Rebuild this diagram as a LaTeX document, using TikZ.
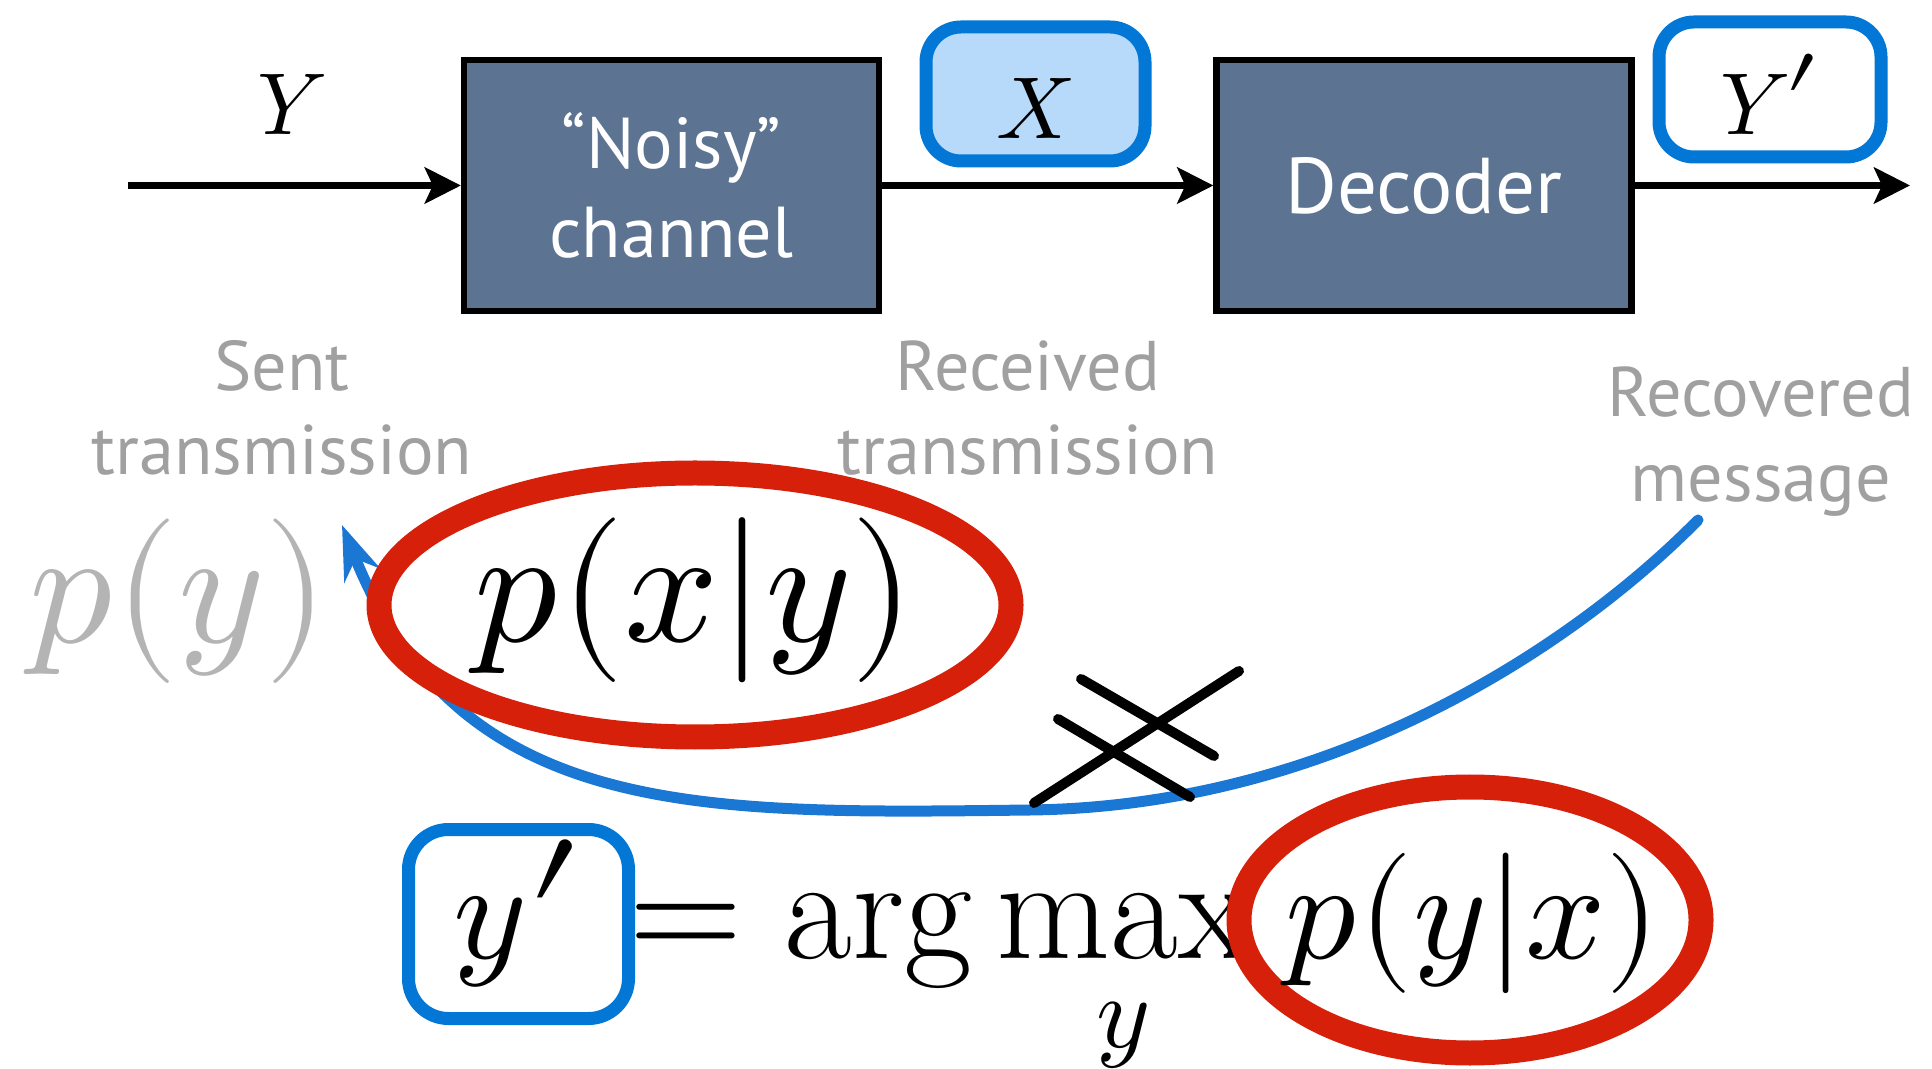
\documentclass[tikz,border=0pt]{standalone}
\usepackage{amsmath}
\usepackage{fontspec}
\usepackage{unicode-math}
\setmathfont{Latin Modern Math}
\newfontfamily\gill{PT Sans}
\usetikzlibrary{arrows.meta, shapes.geometric}
\definecolor{boxfill}{RGB}{92,116,146}
\definecolor{markred}{RGB}{214,32,10}
\definecolor{markblue}{RGB}{26,120,212}
\definecolor{boxblue}{RGB}{2,119,214}
\definecolor{paleblue}{RGB}{184,218,250}
\definecolor{labelgray}{RGB}{160,160,160}
\definecolor{pygray}{RGB}{180,180,180}
\newcommand{\bigprime}[1]{\raisebox{#1}{\scalebox{1.3}{$\prime$}}}

\begin{document}
\begin{tikzpicture}[>={Stealth[length=0.36cm, width=0.36cm, inset=0.08cm]},
    blockbox/.style={draw=black, line width=1.8pt, fill=boxfill, text=white, minimum width=4.15cm, minimum height=2.51cm, align=center, font=\gill\fontsize{20.5}{25.5}\selectfont},
    varbox/.style={draw=boxblue, line width=0.13cm, rounded corners=0.35cm, text height=0.9cm, text depth=0cm, font=\fontsize{25}{30}\selectfont},
    mathlab/.style={font=\fontsize{25}{30}\selectfont},
    graylabel/.style={text=labelgray, align=center, font=\gill\fontsize{20}{24}\selectfont},
    redring/.style={ellipse, draw=markred, line width=0.25cm, inner sep=0pt},
    flow/.style={->, line width=2.2pt},
    blueline/.style={draw=markblue, line width=0.11cm, line cap=round, -{Stealth[length=0.54cm, width=0.38cm]}},
    crossline/.style={line width=0.1cm, line cap=round}]
    \useasboundingbox (0,0) rectangle (19.32,-10.69);
    \node[blockbox] (noisy) at (6.715,-1.855) {“Noisy”\\channel};
    \node[blockbox, font=\gill\fontsize{22.5}{27}\selectfont] (dec) at (14.24,-1.855) {Decoder};
    \node[varbox, fill=paleblue, minimum width=2.19cm, minimum height=1.34cm] (xbox) at (10.355,-0.94) {$X$};
    \node[varbox, fill=white, minimum width=2.22cm, minimum height=1.35cm] (ybox) at (17.70,-0.895) {$Y\mkern-1mu\bigprime{-0.06em}$};
    \node[mathlab] (ylab) at (2.92,-1.05) {$Y$};
    \coordinate (in) at (1.28,-1.855);
    \coordinate (out) at (19.10,-1.855);
    \draw[flow] (in) -- (noisy); \draw[flow] (noisy) -- (dec); \draw[flow] (dec) -- (out);
    \node[graylabel] (sent) at (2.82,-4.08) {Sent\\transmission};
    \node[graylabel] (recv) at (10.28,-4.08) {Received\\transmission};
    \node[graylabel] (recov) at (17.61,-4.415) {Recovered\\message};
    \node[text=pygray, font=\fontsize{47}{56}\selectfont] (py) at (1.79,-6.01) {$p(y)$};
    \coordinate (cstart) at (16.98,-5.20);
    \coordinate (cmid) at (10.30,-8.10);
    \coordinate (ctip) at (3.42,-5.25);
    \draw[blueline] (cstart) .. controls (15.90,-6.30) and (13.50,-8.06) .. (cmid) .. controls (7.00,-8.14) and (4.60,-8.20) .. (ctip);
    \node[redring, minimum width=6.32cm, minimum height=2.64cm] (ring1) at (6.95,-6.05) {};
    \node[font=\fontsize{47}{56}\selectfont] (pxy) at (6.95,-6.00) {$p(x|y)$};
    \draw[crossline] (10.34,-8.03) -- (12.39,-6.71);
    \draw[crossline] (10.81,-6.79) -- (12.14,-7.56);
    \draw[crossline] (10.58,-7.19) -- (11.90,-7.97);
    \node[draw=boxblue, line width=0.13cm, rounded corners=0.4cm, fill=white, minimum width=2.20cm, minimum height=1.89cm, text height=1.0cm, text depth=0.32cm, font=\fontsize{40}{48}\selectfont] (ypbox) at (5.185,-9.24) {$y\bigprime{-0.13em}$};
    \node[anchor=base west, inner sep=0pt, font=\fontsize{42}{50}\selectfont] (argmax) at (6.28,-9.58) {$\displaystyle =\arg\max_y$};
    \node[redring, minimum width=4.62cm, minimum height=2.66cm] (ring2) at (14.70,-9.20) {};
    \node[text height=1.2cm, text depth=0.44cm, font=\fontsize{40}{48}\selectfont] (pyx) at (14.73,-9.20) {$p(y|x)$};
\end{tikzpicture}
\end{document}
